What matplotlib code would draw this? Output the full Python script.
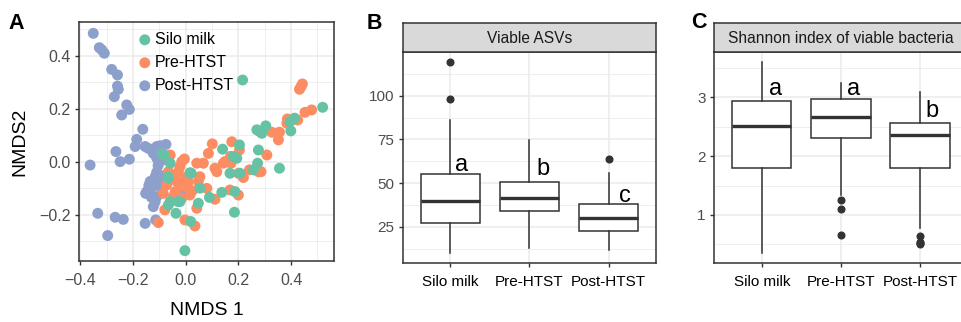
import matplotlib
matplotlib.use('Agg')
import matplotlib.pyplot as plt
from matplotlib.ticker import FixedLocator

plt.rcParams['font.family'] = ['Liberation Sans', 'DejaVu Sans']

# ---------------- data ----------------
groups = ['Silo milk', 'Pre-HTST', 'Post-HTST']
colors = ['#66C2A5', '#FC8D62', '#8DA0CB']

silo_x = [0.216, 0.520, 0.413, 0.396, 0.399, 0.270, 0.282, 0.304, 0.289, 0.140,
          0.204, 0.181, 0.194, 0.276, 0.273, 0.356, 0.168, 0.206, 0.137, 0.187,
          0.185, 0.090, 0.048, 0.016, -0.089, -0.059, -0.066, -0.059, -0.066, -0.022,
          -0.037, 0.019, -0.003, 0.054, -0.082, -0.067, 0.021, -0.029, 0.257]
silo_y = [0.308, 0.205, 0.164, 0.151, 0.116, 0.120, 0.113, 0.135, 0.107, 0.047,
          0.063, 0.019, 0.013, 0.044, -0.006, -0.025, -0.044, -0.044, -0.116, -0.113,
          -0.191, -0.135, -0.157, -0.042, 0.029, -0.006, -0.063, -0.151, -0.164, -0.151,
          -0.195, -0.226, -0.336, -0.100, 0.025, -0.057, -0.044, -0.151, -0.031]

pre_x = [0.438, 0.432, 0.443, 0.478, 0.453, 0.425, 0.386, 0.384, 0.327, 0.346,
         0.356, 0.352, 0.308, 0.276, 0.286, 0.242, 0.219, 0.200, 0.172, 0.143,
         0.170, 0.101, 0.086, 0.067, 0.042, 0.111, 0.118, 0.054, 0.048, 0.080,
         0.111, 0.200, 0.168, 0.042, -0.003, 0.035, -0.104, -0.079, -0.085, -0.059,
         -0.015, -0.022, -0.028, -0.034, -0.022, -0.003, 0.010, -0.040, -0.015, 0.016,
         -0.066, -0.053, -0.047, -0.072, -0.005, 0.000, 0.025, 0.175, 0.204, 0.149]
pre_y = [0.283, 0.273, 0.293, 0.195, 0.186, 0.157, 0.161, 0.145, 0.111, 0.107,
         0.111, 0.082, 0.025, -0.038, -0.038, -0.031, -0.060, -0.044, -0.006, -0.006,
         0.020, 0.067, 0.031, -0.006, -0.006, -0.025, -0.038, -0.057, -0.075, -0.101,
         -0.142, -0.126, -0.107, -0.176, -0.220, -0.243, -0.230, -0.182, -0.120, 0.025,
         0.000, -0.019, -0.038, -0.075, -0.088, -0.094, -0.075, -0.113, -0.138, -0.126,
         -0.038, -0.050, -0.132, -0.088, 0.010, -0.060, -0.110, 0.075, 0.044, 0.000]

post_x = [-0.351, -0.328, -0.319, -0.309, -0.281, -0.259, -0.259, -0.256, -0.271, -0.224,
          -0.214, -0.243, -0.163, -0.186, -0.192, -0.154, -0.142, -0.123, -0.110, -0.097,
          -0.075, -0.123, -0.110, -0.265, -0.249, -0.214, -0.363, -0.110, -0.116, -0.123,
          -0.100, -0.135, -0.148, -0.152, -0.110, -0.116, -0.123, -0.085, -0.097, -0.334,
          -0.268, -0.237, -0.154, -0.114, -0.296, -0.015, -0.130, -0.105, -0.090, -0.130,
          -0.140]
post_y = [0.484, 0.430, 0.422, 0.409, 0.348, 0.327, 0.285, 0.273, 0.245, 0.214,
          0.197, 0.176, 0.122, 0.084, 0.057, 0.057, 0.050, 0.045, 0.057, 0.060,
          0.065, 0.031, 0.013, 0.038, 0.000, 0.009, -0.013, -0.040, -0.057, -0.075,
          -0.050, -0.075, -0.113, -0.120, -0.132, -0.151, -0.170, -0.069, -0.094, -0.195,
          -0.210, -0.218, -0.233, -0.220, -0.279, -0.113, -0.100, -0.015, 0.005, -0.135,
          -0.090]

# Panel B: Viable ASVs box statistics
asv_whislo = [10.0, 12.8, 11.9]
asv_q1 = [27.1, 34.1, 22.9]
asv_med = [39.8, 41.6, 29.9]
asv_q3 = [55.1, 50.9, 37.9]
asv_whishi = [86.1, 74.7, 55.6]
asv_fliers = [[119.0, 97.9], [], [64.0]]
asv_letters = ['a', 'b', 'c']
asv_letter_x = [1.063, 2.084, 3.13]
asv_letter_y = [57.2, 54.7, 39.5]

# Panel C: Shannon index box statistics
sh_whislo = [0.348, 1.340, 0.773]
sh_q1 = [1.805, 2.314, 1.805]
sh_med = [2.513, 2.671, 2.360]
sh_q3 = [2.938, 2.966, 2.558]
sh_whishi = [3.595, 3.238, 3.085]
sh_fliers = [[], [1.255, 1.102, 0.660], [0.649, 0.547, 0.501, 0.520]]
sh_letters = ['a', 'a', 'b']
sh_letter_x = [1.097, 2.071, 3.067]
sh_letter_y = [3.04, 3.04, 2.67]

# ---------------- figure ----------------
W, H = 961, 322
fig = plt.figure(figsize=(W / 100, H / 100), dpi=100)

def frac(l, t, r, b):
    return [l / W, 1 - b / H, (r - l) / W, (b - t) / H]

DARK = '#333333'
GRID = '#EBEBEB'
TICKGRAY = '#4D4D4D'

def style(ax, xcol, ls=11):
    for s in ax.spines.values():
        s.set_color(DARK)
        s.set_linewidth(1.1)
    ax.tick_params(which='major', length=2.75, width=1.0, color=DARK, pad=2.2, labelsize=ls)
    ax.tick_params(which='minor', length=0)
    ax.tick_params(axis='y', labelcolor=TICKGRAY, pad=3.5)
    ax.tick_params(axis='x', labelcolor=xcol, pad=6.0)
    ax.grid(which='major', color=GRID, linewidth=1.1, zorder=0)
    ax.grid(which='minor', color=GRID, linewidth=0.55, zorder=0)
    ax.set_axisbelow(True)

# ---- Panel A ----
axA = fig.add_axes(frac(79.3, 21.7, 334, 261))
style(axA, TICKGRAY, ls=11.5)
sx = [silo_x, pre_x, post_x]
sy = [silo_y, pre_y, post_y]
handles = [None] * 3
for i in [2, 1, 0]:
    handles[i] = axA.scatter(sx[i], sy[i], s=62, color=colors[i], edgecolors='none',
                             label=groups[i], zorder=3)
axA.set_xlim(-0.404, 0.563)
axA.set_ylim(-0.375, 0.528)
axA.xaxis.set_major_locator(FixedLocator([-0.4, -0.2, 0.0, 0.2, 0.4]))
axA.yaxis.set_major_locator(FixedLocator([-0.2, 0.0, 0.2, 0.4]))
axA.xaxis.set_minor_locator(FixedLocator([-0.3, -0.1, 0.1, 0.3, 0.5]))
axA.yaxis.set_minor_locator(FixedLocator([-0.3, -0.1, 0.1, 0.3, 0.5]))
axA.set_xticklabels(['\u22120.4', '\u22120.2', '0.0', '0.2', '0.4'])
axA.set_yticklabels(['\u22120.2', '0.0', '0.2', '0.4'])
axA.set_xlabel('NMDS 1', fontsize=14, color='black')
axA.xaxis.set_label_coords(0.5, -0.172)
axA.set_ylabel('NMDS2', fontsize=14, color='black')
axA.yaxis.set_label_coords(-0.2, 0.5)
leg = axA.legend(handles=handles, loc='upper left', bbox_to_anchor=(0.232, 0.957),
                 frameon=False, fontsize=11.5, handlelength=0.8, handletextpad=0.25,
                 borderpad=0, borderaxespad=0, labelspacing=0.5, markerscale=1.0)

# ---- Box panels ----
def boxpanel(left, title, wlo, q1, med, q3, whi, fl, letters, lx, ly,
             ylim, majors, minors, ticklabels):
    ax = fig.add_axes(frac(left, 52.3, left + 253.3, 262.7))
    style(ax, 'black')
    stats = []
    for i in range(3):
        stats.append(dict(whislo=wlo[i], q1=q1[i], med=med[i], q3=q3[i],
                          whishi=whi[i], fliers=fl[i], label=groups[i]))
    ax.bxp(stats, positions=[1, 2, 3], widths=0.75, patch_artist=True, showcaps=False,
           boxprops=dict(facecolor='white', edgecolor=DARK, linewidth=1.1),
           medianprops=dict(color=DARK, linewidth=2.4, solid_capstyle='butt'),
           whiskerprops=dict(color=DARK, linewidth=1.1),
           flierprops=dict(marker='o', markersize=4.8, markerfacecolor=DARK,
                           markeredgecolor=DARK))
    for t, x, y in zip(letters, lx, ly):
        ax.text(x, y, t, fontsize=17, ha='left', va='baseline', color='black', zorder=5)
    ax.set_xlim(0.4, 3.6)
    ax.set_ylim(*ylim)
    ax.yaxis.set_major_locator(FixedLocator(majors))
    ax.yaxis.set_minor_locator(FixedLocator(minors))
    ax.set_yticklabels(ticklabels)
    ax.set_xticks([1, 2, 3])
    ax.set_xticklabels(groups)
    # strip
    st = fig.add_axes(frac(left, 22.7, left + 253.3, 52.3))
    st.set_facecolor('#D9D9D9')
    for s in st.spines.values():
        s.set_color(DARK)
        s.set_linewidth(1.1)
    st.set_xticks([])
    st.set_yticks([])
    st.text(0.5, 0.47, title, transform=st.transAxes, ha='center', va='center',
            fontsize=11.2, color='#1A1A1A')
    return ax

boxpanel(402.7, 'Viable ASVs', asv_whislo, asv_q1, asv_med, asv_q3, asv_whishi,
         asv_fliers, asv_letters, asv_letter_x, asv_letter_y,
         (4.6, 124.8), [25, 50, 75, 100], [12.5, 37.5, 62.5, 87.5, 112.5],
         ['25', '50', '75', '100'])
boxpanel(714.3, 'Shannon index of viable bacteria', sh_whislo, sh_q1, sh_med, sh_q3,
         sh_whishi, sh_fliers, sh_letters, sh_letter_x, sh_letter_y,
         (0.189, 3.765), [1, 2, 3], [0.5, 1.5, 2.5, 3.5], ['1', '2', '3'])

# panel tags
fig.text(8 / W, 1 - 13 / H, 'A', fontsize=15.5, fontweight='bold', ha='left', va='top')
fig.text(367 / W, 1 - 13 / H, 'B', fontsize=15.5, fontweight='bold', ha='left', va='top')
fig.text(691.5 / W, 1 - 12 / H, 'C', fontsize=15.5, fontweight='bold', ha='left', va='top')

fig.savefig('out.png', dpi=100)
